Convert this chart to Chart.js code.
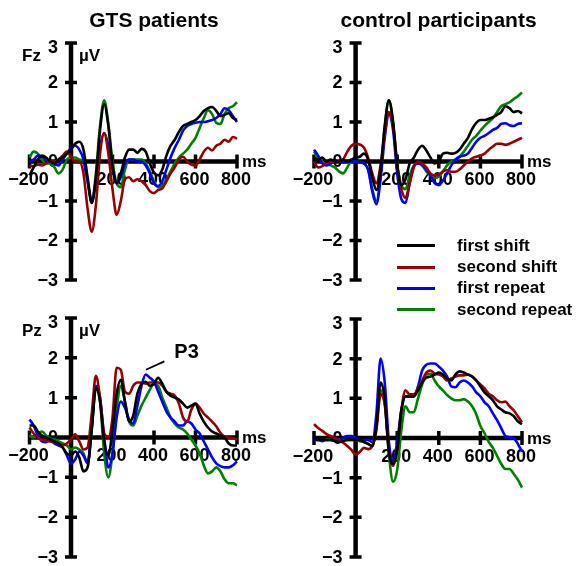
<!DOCTYPE html>
<html>
<head>
<meta charset="utf-8">
<script src="https://cdn.jsdelivr.net/npm/chart.js@4.4.1/dist/chart.umd.min.js"></script>
<style>
  body { margin: 0; background: #fff; }
  #wrap { position: relative; width: 585px; height: 566px; overflow: hidden;
          font-family: "Liberation Sans", Arial, sans-serif; font-weight: bold; }
  #wrap canvas { position: absolute; }
  #legend { position: absolute; left: 397px; top: 235px; }
  .row { display: flex; align-items: center; height: 21.4px; font-size: 17px; color: #000; white-space: nowrap; }
  .sw { width: 38px; height: 3px; margin-right: 22px; }
</style>
</head>
<body>
<div id="wrap">
  <canvas id="tl" width="290" height="290" style="left:0;top:0"></canvas>
  <canvas id="tr" width="295" height="290" style="left:290px;top:0"></canvas>
  <canvas id="bl" width="290" height="276" style="left:0;top:290px"></canvas>
  <canvas id="br" width="295" height="276" style="left:290px;top:290px"></canvas>
  <div id="legend"></div>
</div>
<script>
// ERP grand averages, Fz / Pz, GTS patients vs controls

const times = [-200, -180, -160, -140, -120, -100, -80, -60, -40, -20,
  0, 20, 40, 60, 80, 100, 120, 140, 160, 180,
  200, 220, 240, 260, 280, 300, 320, 340, 360, 380,
  400, 420, 440, 460, 480, 500, 520, 540, 560, 580,
  600, 620, 640, 660, 680, 700, 720, 740, 760, 780, 800];

const seriesNames = ["first shift", "second shift", "first repeat", "second repeat"];
const seriesColors = ["#000000", "#990000", "#0000ff", "#008000"];

const xTicks = [-200, 0, 200, 400, 600, 800];
const xTickLabels = ["\u2212200", "", "200", "400", "600", "800"];
const yTicks = [-3, -2, -1, 0, 1, 2, 3];
const yTickLabels = ["\u22123", "\u22122", "\u22121", "0", "1", "2", "3"];

// Fz, GTS patients
const fzGtsFirstShift = [-0.35, -0.15, 0.05, 0.15, 0.1, 0.0, -0.05, 0.05, 0.1, 0.2,
  0.3, 0.45, 0.5, 0.3, -0.4, -1.05, -0.4, 0.8, 1.45, 0.9,
  -0.1, -0.55, -0.3, 0.1, 0.3, 0.3, 0.22, 0.32, 0.25, -0.05,
  -0.28, -0.35, -0.2, 0.15, 0.4, 0.55, 0.75, 0.9, 0.95, 1.0,
  1.05, 1.15, 1.28, 1.35, 1.38, 1.28, 1.15, 1.18, 1.22, 1.1, 1.05];
const fzGtsSecondShift = [-0.1, -0.12, -0.08, -0.1, -0.05, 0.0, 0.0, 0.05, 0.15, 0.25,
  0.12, 0.0, 0.0, -0.3, -1.2, -1.78, -1.1, 0.2, 0.72, 0.2,
  -0.7, -1.35, -1.0, -0.45, -0.4, -0.5, -0.45, -0.5, -0.6, -0.75,
  -0.8, -0.72, -0.68, -0.5, -0.3, -0.15, 0.05, 0.12, 0.0, -0.08,
  -0.1, 0.05, 0.25, 0.35, 0.28, 0.4, 0.45, 0.55, 0.5, 0.62, 0.58];
const fzGtsFirstRepeat = [0.0, 0.05, 0.15, 0.12, 0.05, 0.0, -0.05, -0.1, 0.05, 0.2,
  0.35, 0.4, 0.3, 0.05, -0.5, -1.0, -0.5, 0.35, 0.72, 0.4,
  -0.2, -0.55, -0.4, -0.05, 0.05, 0.05, 0.0, 0.0, -0.1, -0.3,
  -0.55, -0.62, -0.5, -0.2, 0.1, 0.35, 0.55, 0.78, 0.9, 0.95,
  0.98, 1.0, 1.0, 1.02, 1.05, 1.1, 1.2, 1.35, 1.3, 1.15, 1.0];
const fzGtsSecondRepeat = [0.1, 0.25, 0.2, 0.05, -0.05, -0.05, -0.15, -0.3, -0.2, 0.05,
  0.1, 0.1, 0.05, 0.0, -0.5, -1.05, -0.3, 0.9, 1.55, 0.95,
  0.0, -0.55, -0.65, -0.2, 0.05, 0.05, 0.05, 0.05, -0.05, -0.25,
  -0.5, -0.65, -0.62, -0.45, -0.25, -0.05, 0.1, 0.2, 0.3, 0.45,
  0.6, 0.85, 1.1, 1.3, 1.2, 0.98, 0.95, 1.2, 1.35, 1.4, 1.5];

// Fz, control participants
const fzCtrlFirstShift = [0.1, 0.05, 0.1, 0.0, 0.05, 0.0, 0.0, 0.05, 0.0, 0.05,
  0.1, 0.12, 0.2, 0.05, -0.4, -0.72, -0.2, 0.9, 1.55, 1.0,
  -0.1, -0.6, -0.45, -0.05, 0.1, 0.3, 0.4, 0.28, 0.1, -0.05,
  0.0, 0.2, 0.22, 0.2, 0.22, 0.3, 0.45, 0.6, 0.82, 0.98,
  1.05, 1.05, 1.08, 1.12, 1.18, 1.25, 1.4, 1.35, 1.25, 1.28, 1.22];
const fzCtrlSecondShift = [0.0, -0.15, -0.12, -0.02, 0.0, 0.0, 0.0, 0.05, 0.25, 0.4,
  0.45, 0.43, 0.35, 0.1, -0.3, -0.55, -0.1, 0.7, 1.25, 0.9,
  -0.1, -0.7, -0.92, -0.55, -0.15, 0.0, -0.05, -0.15, -0.3, -0.35,
  -0.33, -0.25, -0.22, -0.26, -0.26, -0.2, -0.1, 0.0, 0.08, 0.12,
  0.15, 0.2, 0.3, 0.38, 0.45, 0.45, 0.42, 0.45, 0.5, 0.55, 0.6];
const fzCtrlFirstRepeat = [0.3, 0.15, -0.05, -0.1, -0.05, 0.0, 0.0, 0.0, 0.0, 0.0,
  0.0, -0.02, -0.05, -0.2, -0.75, -1.08, -0.45, 0.6, 1.2, 0.8,
  -0.3, -0.95, -1.05, -0.55, -0.12, -0.05, -0.08, -0.2, -0.35, -0.55,
  -0.6, -0.48, -0.3, -0.1, 0.05, 0.12, 0.15, 0.2, 0.35, 0.5,
  0.6, 0.65, 0.72, 0.8, 0.85, 0.95, 0.97, 0.92, 0.9, 0.95, 0.97];
const fzCtrlSecondRepeat = [0.25, 0.1, 0.0, -0.05, -0.1, -0.15, -0.25, -0.3, -0.15, 0.0,
  0.0, -0.02, -0.05, -0.2, -0.7, -1.0, -0.35, 0.85, 1.55, 1.0,
  -0.05, -0.6, -0.7, -0.35, -0.1, -0.05, -0.1, -0.25, -0.35, -0.42,
  -0.38, -0.25, -0.1, 0.0, 0.05, 0.12, 0.25, 0.4, 0.55, 0.65,
  0.78, 0.9, 1.0, 1.1, 1.25, 1.4, 1.45, 1.5, 1.58, 1.65, 1.75];

// Pz, GTS patients
const pzGtsFirstShift = [0.3, 0.3, 0.15, 0.05, 0.0, -0.05, -0.1, -0.15, -0.25, -0.4,
  -0.45, -0.35, -0.5, -0.85, -0.75, 0.2, 1.25, 0.9, -0.1, -0.45,
  0.2, 1.1, 1.45, 0.9, 0.4, 0.55, 1.1, 1.35, 1.4, 1.3,
  1.35, 1.5, 1.35, 1.15, 1.05, 1.0, 0.95, 0.85, 0.75, 0.8,
  0.85, 0.6, 0.4, 0.25, 0.15, 0.1, 0.05, 0.0, -0.15, -0.2, -0.2];
const pzGtsSecondShift = [0.25, 0.1, 0.0, -0.05, -0.07, -0.1, -0.12, -0.15, -0.2, -0.15,
  -0.05, 0.08, -0.1, -0.3, -0.25, 0.6, 1.55, 1.0, 0.1, 0.0,
  0.5, 1.75, 1.7, 1.15, 1.1, 1.3, 1.38, 1.38, 1.35, 1.38,
  1.38, 1.38, 1.3, 1.15, 1.1, 1.05, 0.85, 0.5, 0.4, 0.7,
  0.85, 0.75, 0.6, 0.5, 0.4, 0.28, 0.12, 0.02, 0.0, -0.02, -0.05];
const pzGtsFirstRepeat = [0.45, 0.3, 0.05, -0.1, -0.12, -0.05, -0.15, -0.2, -0.25, -0.45,
  -0.65, -0.55, -0.35, -0.45, -0.65, 0.3, 1.3, 1.0, 0.0, -0.75,
  -0.4, 0.5, 0.9, 0.75, 0.45, 0.35, 0.8, 1.3, 1.58, 1.5,
  1.4, 1.15, 0.9, 0.65, 0.5, 0.4, 0.3, 0.3, 0.4, 0.35,
  0.2, 0.1, -0.1, -0.3, -0.5, -0.65, -0.72, -0.75, -0.75, -0.7, -0.6];
const pzGtsSecondRepeat = [0.05, 0.0, 0.1, 0.15, 0.05, -0.03, -0.05, -0.1, -0.15, -0.2,
  -0.3, -0.25, -0.3, -0.4, -0.65, 0.2, 1.25, 0.9, -0.4, -1.0,
  -0.4, 0.7, 1.3, 0.9, 0.4, 0.3, 0.55, 0.8, 1.0, 1.2,
  1.35, 1.3, 1.0, 0.75, 0.5, 0.35, 0.25, 0.2, 0.1, -0.05,
  -0.2, -0.4, -0.7, -0.9, -0.85, -0.75, -0.85, -1.05, -1.15, -1.15, -1.2];

// Pz, control participants
const pzCtrlFirstShift = [0.0, -0.05, -0.03, -0.05, -0.05, -0.08, -0.1, -0.08, -0.05, -0.05,
  -0.05, -0.05, -0.1, -0.15, -0.2, 0.3, 1.4, 1.0, -0.35, -0.65,
  -0.3, 0.7, 1.05, 1.05, 1.05, 1.2, 1.4, 1.52, 1.55, 1.6,
  1.65, 1.6, 1.5, 1.45, 1.6, 1.68, 1.65, 1.6, 1.55, 1.45,
  1.3, 1.15, 1.05, 0.95, 0.8, 0.72, 0.65, 0.62, 0.55, 0.42, 0.35];
const pzCtrlSecondShift = [0.35, 0.25, 0.18, 0.1, 0.05, 0.0, -0.05, -0.12, -0.2, -0.3,
  -0.42, -0.35, -0.25, -0.28, -0.2, 0.2, 1.1, 0.85, -0.3, -0.7,
  -0.3, 0.7, 1.2, 1.1, 1.1, 1.25, 1.45, 1.65, 1.7, 1.62,
  1.6, 1.55, 1.45, 1.5, 1.55, 1.58, 1.58, 1.6, 1.55, 1.45,
  1.35, 1.25, 1.12, 1.05, 0.95, 0.9, 0.92, 0.8, 0.7, 0.55, 0.4];
const pzCtrlFirstRepeat = [-0.05, -0.05, -0.08, -0.05, -0.05, -0.05, -0.05, 0.0, 0.05, 0.05,
  0.0, -0.05, -0.05, -0.05, -0.1, 0.6, 2.0, 1.4, -0.1, -0.6,
  -0.1, 0.7, 1.05, 1.05, 1.05, 1.3, 1.7, 1.85, 1.88, 1.88,
  1.8, 1.7, 1.55, 1.3, 1.28, 1.4, 1.45, 1.4, 1.3, 1.15,
  1.05, 0.9, 0.8, 0.62, 0.45, 0.25, 0.05, 0.02, 0.0, -0.15, -0.35];
const pzCtrlSecondRepeat = [-0.05, -0.05, -0.05, -0.03, -0.05, -0.05, -0.03, -0.05, -0.05, -0.05,
  -0.05, -0.08, -0.1, -0.15, -0.2, 0.3, 1.2, 0.9, -0.4, -1.1,
  -0.8, 0.2, 0.8, 0.65, 0.65, 1.0, 1.35, 1.6, 1.62, 1.45,
  1.3, 1.2, 1.08, 1.0, 0.95, 0.95, 0.98, 0.92, 0.8, 0.6,
  0.3, 0.12, -0.1, -0.25, -0.45, -0.65, -0.78, -0.78, -0.9, -1.05, -1.25];

const FONT = '"Liberation Sans", Arial, sans-serif';

// axes crossing at zero, tick labels, panel captions
const erpAxes = {
  id: "erpAxes",
  beforeDatasetsDraw(chart, args, opts) {
    const { ctx } = chart;
    const x = chart.scales.x, y = chart.scales.y;
    const x0 = x.getPixelForValue(0), y0 = y.getPixelForValue(0);
    const xl = x.getPixelForValue(xTicks[0]);
    const xr = x.getPixelForValue(xTicks[xTicks.length - 1]);
    const yt = y.getPixelForValue(yTicks[yTicks.length - 1]);
    const yb = y.getPixelForValue(yTicks[0]);

    ctx.save();
    ctx.fillStyle = "#000";
    ctx.strokeStyle = "#000";

    // tick labels
    ctx.font = "bold 18px " + FONT;
    ctx.textAlign = "right";
    ctx.textBaseline = "middle";
    yTicks.forEach((v, i) => {
      let py = y.getPixelForValue(v);
      if (i === yTicks.length - 1) py += 4;
      ctx.fillText(yTickLabels[i], x0 - 13, py + 1);
    });
    ctx.textAlign = "center";
    ctx.textBaseline = "top";
    xTicks.forEach((v, i) => {
      if (!xTickLabels[i]) return;
      ctx.fillText(xTickLabels[i], x.getPixelForValue(v) - 1, y0 + 10);
    });

    // axis lines
    ctx.lineCap = "butt";
    ctx.lineWidth = 4.5;
    ctx.beginPath();
    ctx.moveTo(xl, y0); ctx.lineTo(xr, y0);
    ctx.moveTo(x0, yt - 1); ctx.lineTo(x0, yb + 1);
    ctx.stroke();

    // tick marks
    ctx.lineWidth = 3.5;
    ctx.beginPath();
    yTicks.forEach((v) => {
      if (v === 0) return;
      const py = y.getPixelForValue(v);
      ctx.moveTo(x0 - 6, py); ctx.lineTo(x0 + 6, py);
    });
    xTicks.forEach((v) => {
      if (v === 0) return;
      const px = x.getPixelForValue(v);
      ctx.moveTo(px, y0 - 7); ctx.lineTo(px, y0 + 7);
    });
    ctx.stroke();

    // captions
    ctx.font = "bold 17px " + FONT;
    ctx.textAlign = "left";
    ctx.textBaseline = "middle";
    if (opts.site) {
      ctx.fillText(opts.site, x0 - 49, yt + 13);
      ctx.fillText("\u00b5V", x0 + 8, yt + 13);
    }
    ctx.fillText("ms", xr + 5, y0 + 1);

    if (opts.title) {
      ctx.font = "bold 21px " + FONT;
      ctx.textAlign = "center";
      ctx.fillText(opts.title, x0 + 83, 21);
    }

    if (opts.peak) {
      const p = opts.peak;
      ctx.lineWidth = 1.8;
      ctx.beginPath();
      ctx.moveTo(x.getPixelForValue(p.from[0]), y.getPixelForValue(p.from[1]));
      ctx.lineTo(x.getPixelForValue(p.to[0]), y.getPixelForValue(p.to[1]));
      ctx.stroke();
      ctx.font = "bold 20px " + FONT;
      ctx.textAlign = "left";
      ctx.fillText(p.text, x.getPixelForValue(p.at[0]), y.getPixelForValue(p.at[1]));
    }
    ctx.restore();
  }
};

function makePanel(canvasId, series, padding, caption) {
  const canvas = document.getElementById(canvasId);
  return new Chart(canvas.getContext("2d"), {
    type: "line",
    data: {
      datasets: series.map((vals, i) => ({
        label: seriesNames[i],
        data: times.map((t, k) => ({ x: t, y: vals[k] })),
        borderColor: seriesColors[i],
        borderWidth: 2.6,
        pointRadius: 0,
        fill: false,
        cubicInterpolationMode: "monotone",
        clip: false,
      })),
    },
    options: {
      responsive: false,
      animation: false,
      events: [],
      layout: { padding },
      scales: {
        x: { type: "linear", min: -200, max: 800, display: false },
        y: { type: "linear", min: -3, max: 3, display: false },
      },
      plugins: {
        legend: { display: false },
        tooltip: { enabled: false },
        erpAxes: caption,
      },
    },
    plugins: [erpAxes],
  });
}

makePanel("tl", [fzGtsFirstShift, fzGtsSecondShift, fzGtsFirstRepeat, fzGtsSecondRepeat],
  { left: 29.5, right: 53, top: 43, bottom: 10 },
  { site: "Fz", title: "GTS patients" });
makePanel("tr", [fzCtrlFirstShift, fzCtrlSecondShift, fzCtrlFirstRepeat, fzCtrlSecondRepeat],
  { left: 24, right: 63, top: 43, bottom: 10 },
  { site: "", title: "control participants" });
makePanel("bl", [pzGtsFirstShift, pzGtsSecondShift, pzGtsFirstRepeat, pzGtsSecondRepeat],
  { left: 29.5, right: 53, top: 28, bottom: 9 },
  { site: "Pz", peak: { text: "P3", from: [361, 1.7], to: [450, 1.91], at: [498, 2.14] } });
makePanel("br", [pzCtrlFirstShift, pzCtrlSecondShift, pzCtrlFirstRepeat, pzCtrlSecondRepeat],
  { left: 24, right: 63, top: 29, bottom: 9 },
  { site: "" });

// legend
const legend = document.getElementById("legend");
seriesNames.forEach((name, i) => {
  const row = document.createElement("div");
  row.className = "row";
  const sw = document.createElement("span");
  sw.className = "sw";
  sw.style.background = seriesColors[i];
  const txt = document.createElement("span");
  txt.textContent = name;
  row.appendChild(sw);
  row.appendChild(txt);
  legend.appendChild(row);
});
</script>
</body>
</html>
